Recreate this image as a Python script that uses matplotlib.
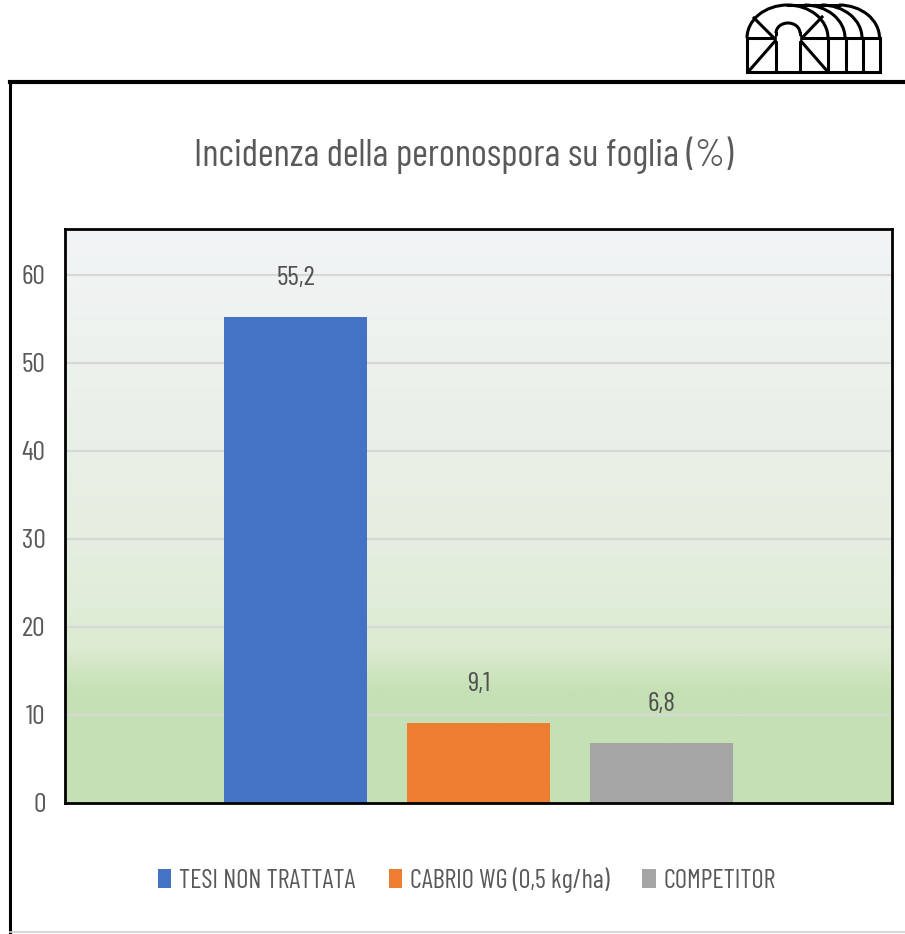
import matplotlib.pyplot as plt
import numpy as np
from matplotlib.colors import LinearSegmentedColormap
from matplotlib.patches import Arc, Rectangle
from matplotlib.lines import Line2D

categories = ["TESI NON TRATTATA", "CABRIO WG (0,5 kg/ha)", "COMPETITOR"]
values = [55.2, 9.1, 6.8]
value_labels = ["55,2", "9,1", "6,8"]
colors = ["#4472C4", "#ED7D31", "#A5A5A5"]
yticks = [0, 10, 20, 30, 40, 50, 60]
title = "Incidenza della peronospora su foglia (%)"

plt.rcParams["font.family"] = ["Barlow Condensed", "DejaVu Sans"]
TXT = "#595959"

W, H = 905, 934
fig = plt.figure(figsize=(W / 100, H / 100), dpi=100)


def px_axes(x0, y0, x1, y1):
    return fig.add_axes([x0 / W, 1 - y1 / H, (x1 - x0) / W, (y1 - y0) / H])


# outer frame
fig.add_artist(Line2D([10 / W, 1], [1 - 82 / H] * 2, color="black", lw=3))
fig.add_artist(Line2D([10 / W] * 2, [1 - 82 / H, 0], color="black", lw=2.2))
fig.add_artist(Line2D([10 / W, 1], [1 - 932 / H] * 2, color="#d0d0d0", lw=1.2))

# main chart
ax = px_axes(65, 229, 892, 803)
x = np.arange(len(values))
ax.set_xlim(-1.26, 3.26)
ax.set_ylim(0, 65.2)

grad_cmap = LinearSegmentedColormap.from_list(
    "bg",
    [(0.0, "#C5E0B4"), (0.19, "#C5E0B4"), (0.27, "#DCEBD2"),
     (0.45, "#E5EEE0"), (1.0, "#F2F4F6")],
)
grad = np.linspace(0, 1, 256).reshape(-1, 1)
ax.imshow(grad, extent=[-1.26, 3.26, 0, 65.2], origin="lower", aspect="auto",
          cmap=grad_cmap, zorder=0)

for t in yticks[1:]:
    ax.axhline(t, color="#D5D8D6", lw=1.6, zorder=1)

bars = ax.bar(x, values, width=0.78, color=colors, zorder=2)
for b, lab in zip(bars, value_labels):
    ax.annotate(lab, (b.get_x() + b.get_width() / 2, b.get_height()),
                xytext=(0, 28), textcoords="offset points", ha="center",
                va="center", fontsize=20, color="#505050")

ax.set_xticks([])
ax.set_yticks(yticks)
ax.set_yticklabels([str(t) for t in yticks], fontsize=20, color=TXT)
ax.tick_params(axis="y", length=0, pad=14)
for s in ax.spines.values():
    s.set_color("black")
    s.set_linewidth(2)

fig.text(464 / W, 1 - 155 / H, title, ha="center", va="center",
         fontsize=27.5, color=TXT)

fig.legend(bars, categories, loc="center", bbox_to_anchor=(467 / W, 1 - 880 / H),
           ncol=3, frameon=False, fontsize=19, labelcolor=TXT,
           handlelength=0.5, handleheight=0.7, handletextpad=0.3,
           columnspacing=1.25)

# greenhouse logo
lg = px_axes(740, 0, 890, 80)
lg.set_xlim(740, 890)
lg.set_ylim(80, 0)
lg.axis("off")
lk = dict(color="black", lw=2.2)
lg.add_patch(Rectangle((747, 38), 133, 34, fill=False, **lk))
lg.add_patch(Arc((787.5, 38), 81, 66, theta1=180, theta2=360, **lk))
for cx in (804.5, 821.5, 839):
    lg.add_patch(Arc((cx, 38), 81, 66, theta1=270, theta2=360, **lk))
lg.plot([787.5, 839], [5, 5], **lk)
lg.add_patch(Arc((788, 33), 24, 20, theta1=180, theta2=360, **lk))
lg.plot([776, 776], [33, 72], **lk)
lg.plot([800, 800], [33, 72], **lk)
lg.add_patch(Rectangle((777, 36), 22, 4, color="white", zorder=3))
lg.plot([748, 776], [72, 40], **lk)
lg.plot([754, 776], [18, 40], **lk)
lg.plot([800, 828], [40, 72], **lk)
lg.plot([800, 822], [40, 17], **lk)
for vx in (828, 846, 863):
    lg.plot([vx, vx], [38, 72], **lk)

fig.savefig("out.png", dpi=100)
